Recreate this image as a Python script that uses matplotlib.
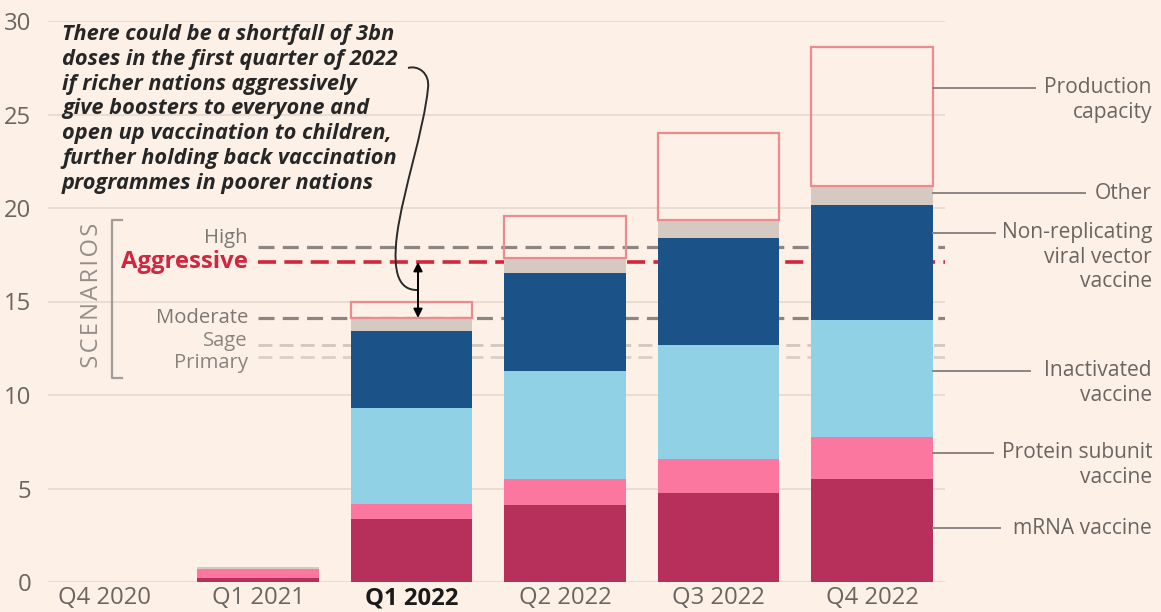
import matplotlib
matplotlib.use("Agg")
import matplotlib.pyplot as plt
import matplotlib.transforms as mtransforms
from matplotlib.patches import Rectangle, PathPatch
from matplotlib.path import Path
import numpy as np

plt.rcParams['font.family'] = ['Open Sans', 'DejaVu Sans']

# ---------------- data ----------------
quarters = ["Q4 2020", "Q1 2021", "Q1 2022", "Q2 2022", "Q3 2022", "Q4 2022"]
mrna = [0.0, 0.22, 3.36, 4.12, 4.78, 5.52]
protein = [0.0, 0.45, 0.80, 1.37, 1.80, 2.21]
inactivated = [0.0, 0.0, 5.17, 5.79, 6.09, 6.27]
viral_vector = [0.0, 0.0, 4.09, 5.22, 5.73, 6.15]
other = [0.0, 0.15, 0.70, 0.85, 0.95, 1.05]
capacity = [0.0, 0.82, 14.97, 19.55, 24.0, 28.6]

scenario_names = ["High", "Aggressive", "Moderate", "Sage", "Primary"]
scenario_values = [17.93, 17.11, 14.12, 12.67, 12.03]

series_names = ["mRNA vaccine", "Protein subunit\nvaccine", "Inactivated\nvaccine",
                "Non-replicating\nviral vector\nvaccine", "Other"]
series_colors = ["#b72f5b", "#fb779f", "#90d1e5", "#1b5389", "#d5c9c1"]
capacity_color = "#ec8a8f"

bg = "#fdf0e6"
grid_c = "#e6d9cf"
text_c = "#6b6561"

# ---------------- figure ----------------
W, H = 1161, 612
fig = plt.figure(figsize=(W / 100, H / 100), dpi=100, facecolor=bg)
renderer = fig.canvas.get_renderer()
ax_l, ax_r, ax_top, ax_bot = 48, 945, 21, 582
ax = fig.add_axes([ax_l / W, 1 - ax_bot / H, (ax_r - ax_l) / W, (ax_bot - ax_top) / H])
ax.set_facecolor(bg)


def fit_size(text, target_px, **kw):
    """font size for which `text` is target_px wide"""
    t = fig.text(0, 0, text, fontsize=10, **kw)
    w = t.get_window_extent(renderer).width
    t.remove()
    return 10 * target_px / w


x = np.arange(len(quarters))
step_px = 153.5
x0_px = 104.5
ax.set_xlim((ax_l - x0_px) / step_px, (ax_r - x0_px) / step_px)
ax.set_ylim(0, 30)
ppu = (ax_bot - ax_top) / 30.0


def px2data(px, py):
    return (px - x0_px) / step_px, (ax_bot - py) / ppu


fs_axis = fit_size("Q4 2020", 93)
fs_label = fit_size("Production", 108)
fs_sc = fit_size("Moderate", 92)
fs_aggr = fit_size("Aggressive", 127, fontweight='bold')
fs_ann = fit_size("There could be a shortfall of 3bn", 333, fontweight='bold', style='italic')

for s in ax.spines.values():
    s.set_visible(False)
ax.set_yticks(np.arange(0, 31, 5))
ax.set_yticklabels([str(v) for v in range(0, 31, 5)])
ax.tick_params(axis='y', length=0, pad=12, labelsize=fs_axis, labelcolor=text_c)
ax.yaxis.grid(True, color=grid_c, lw=1.2)
ax.set_axisbelow(True)
ax.set_xticks(x)
ax.set_xticklabels(quarters)
ax.tick_params(axis='x', length=0, pad=3, labelsize=fs_axis, labelcolor=text_c)
for lbl in ax.get_xticklabels():
    if lbl.get_text() == "Q1 2022":
        lbl.set_fontweight('bold')
        lbl.set_color('#1a1a1a')

width = 0.79

# ---------------- scenario lines ----------------
sc_style = {
    "High": dict(color="#8c8581", lw=2.3, dashes=(5, 2.6)),
    "Aggressive": dict(color="#d2263f", lw=2.6, dashes=(5, 2.3)),
    "Moderate": dict(color="#8c8581", lw=2.3, dashes=(5, 2.6)),
    "Sage": dict(color="#d0c7c0", lw=2.0, dashes=(5, 2.6)),
    "Primary": dict(color="#d9d0c9", lw=2.0, dashes=(5, 2.6)),
}
sc_text_off = {"High": 9, "Aggressive": 0, "Moderate": 0, "Sage": 4, "Primary": -6}
line_start = px2data(258, 0)[0]
for name, val in zip(scenario_names, scenario_values):
    st = sc_style[name]
    ax.plot([line_start, ax.get_xlim()[1]], [val, val], color=st["color"], lw=st["lw"],
            dashes=st["dashes"], zorder=1, dash_capstyle='butt')
    ty = val + sc_text_off[name] / ppu
    if name == "Aggressive":
        ax.text(px2data(248, 0)[0], ty, name, ha='right', va='center', fontsize=fs_aggr,
                fontweight='bold', color="#d2263f")
    else:
        ax.text(px2data(248, 0)[0], ty, name, ha='right', va='center', fontsize=fs_sc,
                color="#7d7773" if name in ("High", "Moderate") else "#8a847f")

# bracket + SCENARIOS
bx, by0 = px2data(112, 220)
_, by1 = px2data(112, 378)
tx, _ = px2data(122, 0)
ax.plot([tx, bx, bx, tx], [by0, by0, by1, by1], color="#a39b95", lw=1.6, clip_on=False)
sx, sy = px2data(92, 296)
ax.text(sx, sy, "\u200aS\u200aC\u200aE\u200aN\u200aA\u200aR\u200aI\u200aO\u200aS", rotation=90,
        ha='center', va='center', fontsize=fs_sc * 1.17, color="#948d88")

# ---------------- stacked bars ----------------
bottom = np.zeros(len(quarters))
for vals, col in zip([mrna, protein, inactivated, viral_vector, other], series_colors):
    vals = np.array(vals)
    ax.bar(x, vals, width=width, bottom=bottom, color=col, edgecolor='none', zorder=3)
    bottom = bottom + vals

# production capacity outlines
for xi, top, cap in zip(x, bottom, capacity):
    if cap > top + 0.05:
        ax.add_patch(Rectangle((xi - width / 2, top), width, cap - top, fill=False,
                               edgecolor=capacity_color, lw=1.6, zorder=4))

# ---------------- right labels ----------------
right_x = x[-1] + width / 2
label_specs = [
    ("Production\ncapacity", 88, 1035),
    ("Other", 193, 1085),
    (series_names[3], 233, 995),
    (series_names[2], 371, 1030),
    (series_names[1], 453, 993),
    (series_names[0], 528, 1000),
]
txt_right = px2data(1152, 0)[0]
for label, py, lx in label_specs:
    _, ly = px2data(0, py)
    ax.plot([right_x, px2data(lx, 0)[0]], [ly, ly], color="#8c8581", lw=1.4, clip_on=False, zorder=5)
    if "\n" in label:
        ax.text(txt_right, ly, label, ha='right', va='top', fontsize=fs_label, color=text_c,
                linespacing=1.22, clip_on=False, multialignment='right',
                transform=ax.transData + mtransforms.ScaledTranslation(0, 11 / 100, fig.dpi_scale_trans))
    else:
        ax.text(txt_right, ly, label, ha='right', va='baseline', fontsize=fs_label, color=text_c,
                clip_on=False,
                transform=ax.transData + mtransforms.ScaledTranslation(0, -6 / 100, fig.dpi_scale_trans))

# ---------------- annotation ----------------
ann = ("There could be a shortfall of 3bn\n"
       "doses in the first quarter of 2022\n"
       "if richer nations aggressively\n"
       "give boosters to everyone and\n"
       "open up vaccination to children,\n"
       "further holding back vaccination\n"
       "programmes in poorer nations")
atx, aty = px2data(62, 24)
ax.text(atx, aty, ann, ha='left', va='top', fontsize=fs_ann, fontweight='bold',
        style='italic', color="#262626", linespacing=1.235, zorder=6)

# double arrow between Moderate and Aggressive
arrow_x = x[2] + px2data(418, 0)[0] - px2data(411.5, 0)[0]
ax.annotate("", xy=(arrow_x, scenario_values[1]), xytext=(arrow_x, scenario_values[2]),
            arrowprops=dict(arrowstyle='<|-|>', color='black', lw=1.4, mutation_scale=13,
                            shrinkA=0, shrinkB=0), zorder=7)

# connector curve
pts_px = [(408, 68), (418, 65), (430, 73), (428, 88),
          (424, 130), (403, 190), (397, 235),
          (392, 275), (400, 290), (417, 290)]
pts = [px2data(*p) for p in pts_px]
codes = [Path.MOVETO] + [Path.CURVE4] * 9
ax.add_patch(PathPatch(Path(pts, codes), fill=False, edgecolor="#2a2a2a", lw=1.4, zorder=6,
                       clip_on=False))

fig.savefig("out.png", dpi=100, facecolor=bg)
